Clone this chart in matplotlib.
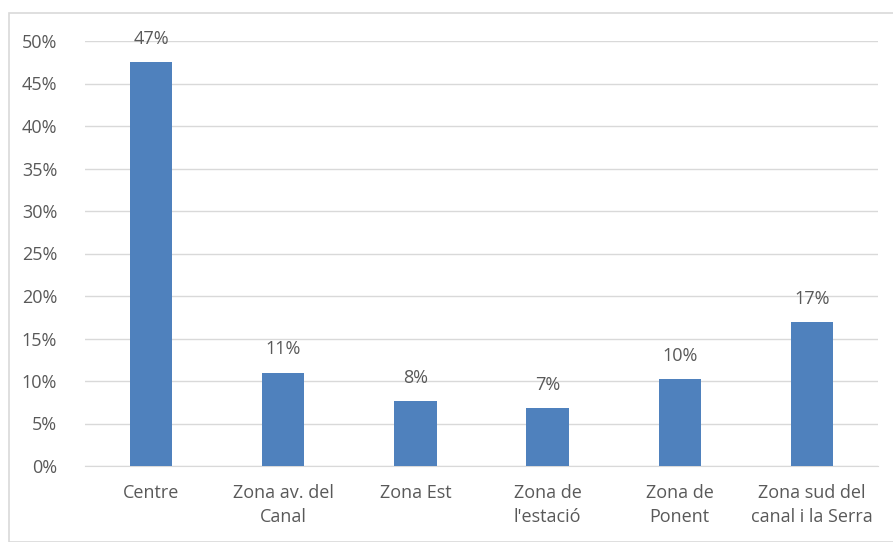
import matplotlib.pyplot as plt
from matplotlib.patches import Rectangle
from matplotlib.ticker import FuncFormatter

categories = ['Centre', 'Zona av. del\nCanal', 'Zona Est', 'Zona de\nl\'estació',
              'Zona de\nPonent', 'Zona sud del\ncanal i la Serra']
values = [47.5, 11.0, 7.6, 6.8, 10.2, 16.9]
labels = ['47%', '11%', '8%', '7%', '10%', '17%']

plt.rcParams['font.family'] = ['Open Sans', 'DejaVu Sans']
text_color = '#595959'
fs = 13

fig = plt.figure(figsize=(8.93, 5.42), dpi=100)
ax = fig.add_axes([85 / 893, 1 - 466 / 542, (878 - 85) / 893, (466 - 41) / 542])

x = range(len(categories))
bars = ax.bar(x, values, width=0.32, color='#4F81BD', zorder=3)
for b, lab in zip(bars, labels):
    ax.text(b.get_x() + b.get_width() / 2, b.get_height() + 1.7, lab,
            ha='center', va='bottom', fontsize=fs, color=text_color)

ax.set_xlim(-0.5, len(categories) - 0.5)
ax.set_ylim(0, 50)
ax.set_yticks(range(0, 51, 5))
ax.yaxis.set_major_formatter(FuncFormatter(lambda v, p: f'{v:.0f}%'))
ax.grid(axis='y', color='#d9d9d9', linewidth=1, zorder=0)
ax.set_xticks(list(x))
ax.set_xticklabels(categories, fontsize=fs, color=text_color, linespacing=1.45)
ax.tick_params(axis='y', labelsize=fs, labelcolor=text_color, length=0, pad=20)
ax.tick_params(axis='x', length=0, pad=13)
for s in ['top', 'right', 'left']:
    ax.spines[s].set_visible(False)
ax.spines['bottom'].set_color('#d9d9d9')

# chart border
fig.patches.append(Rectangle((9 / 893, 0), 1, 1 - 13 / 542, transform=fig.transFigure,
                             fill=False, edgecolor='#d9d9d9', linewidth=1.2))

fig.savefig('out.png', dpi=100)
